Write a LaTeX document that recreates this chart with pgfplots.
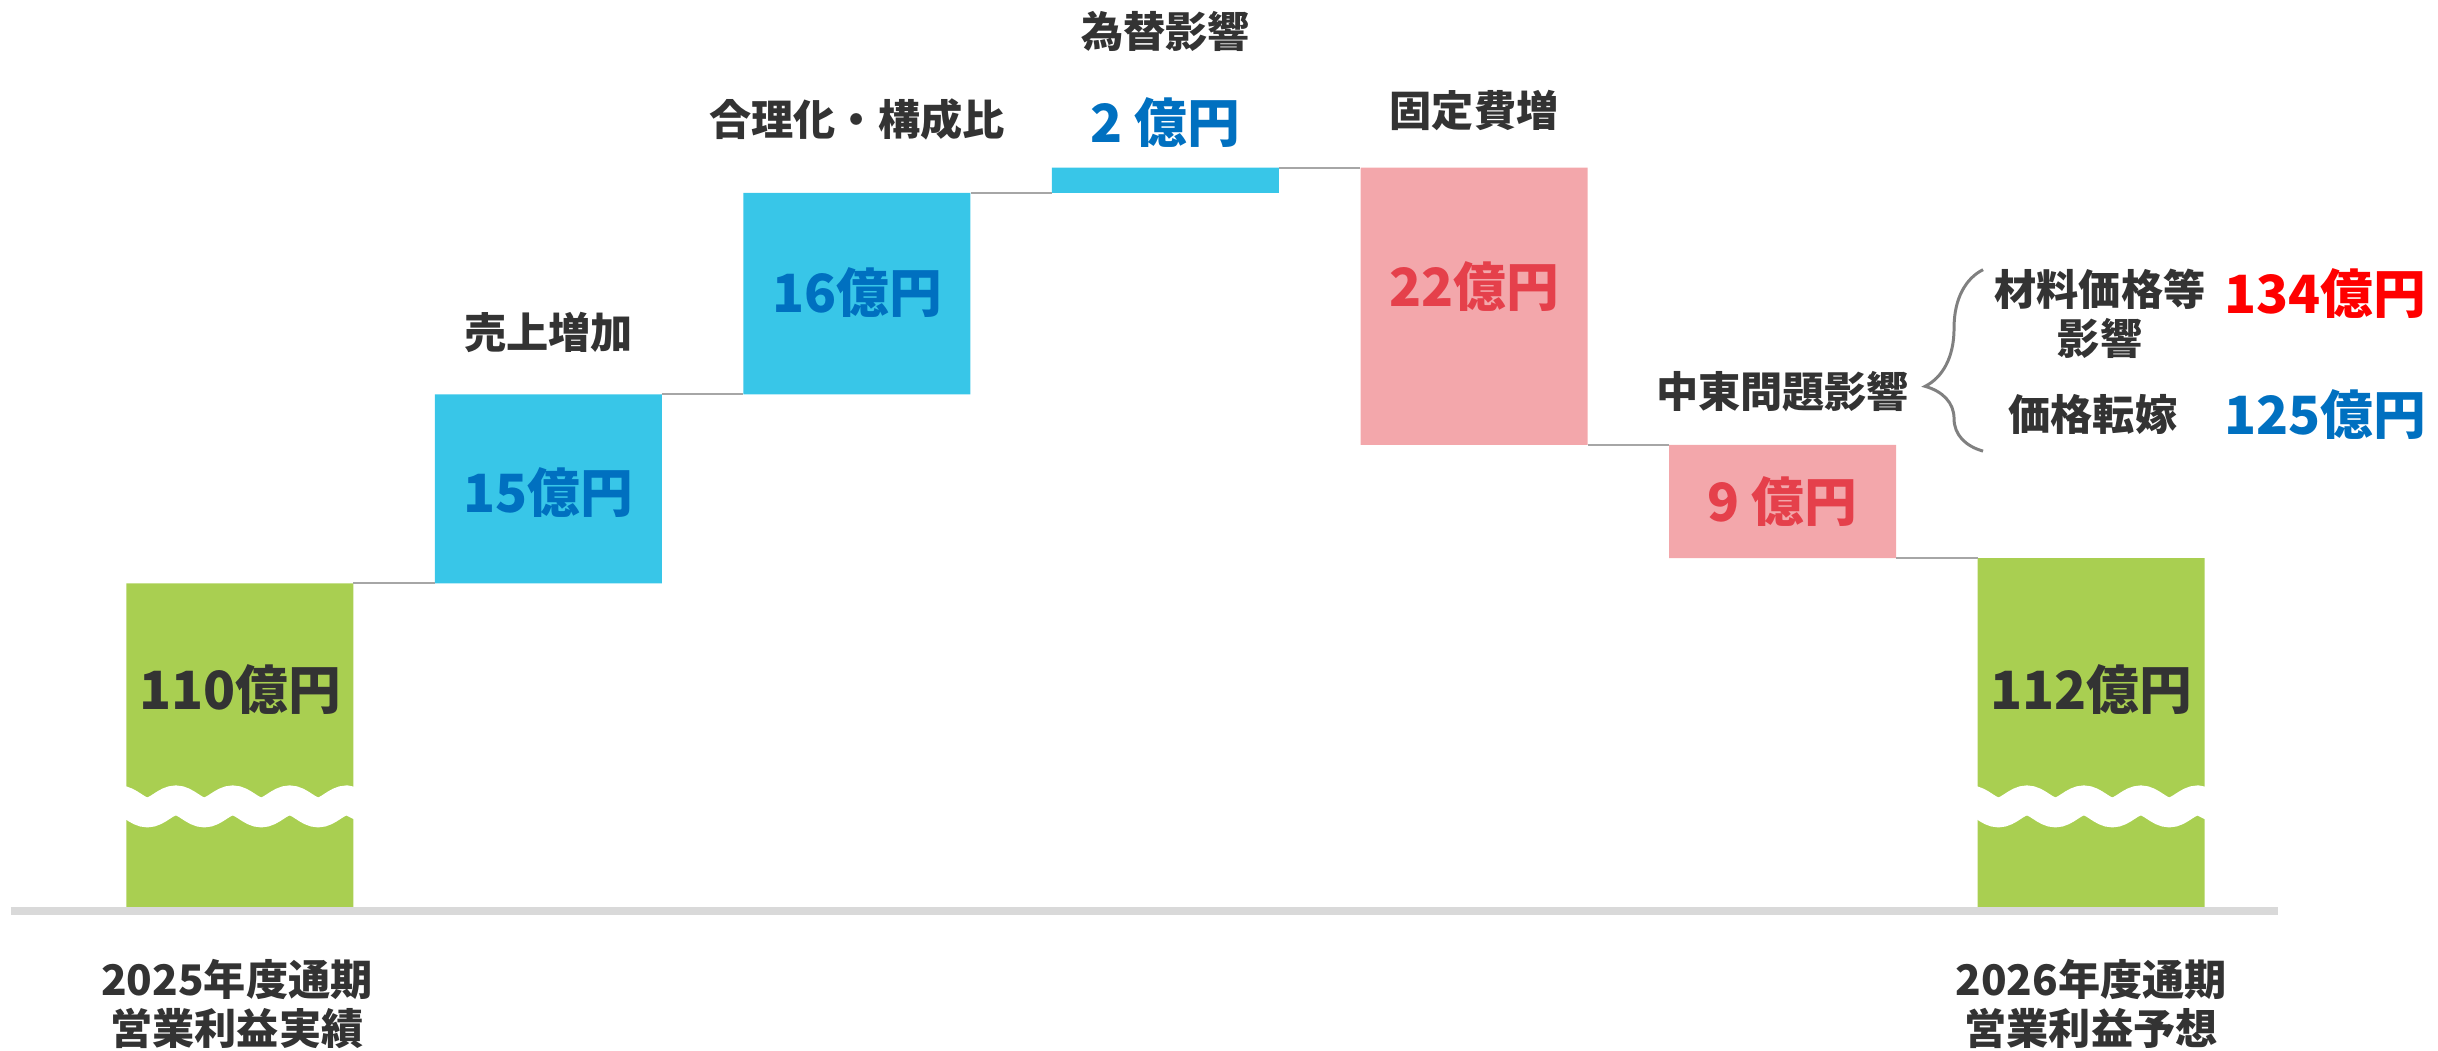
\documentclass[border=0pt]{standalone}
\usepackage{fontspec}
\setmainfont{Noto Sans CJK JP}
\usepackage{pgfplots}
\pgfplotsset{compat=1.18}
\usetikzlibrary{decorations.pathmorphing,decorations.pathreplacing}

\definecolor{barGreen}{HTML}{A9CF51}
\definecolor{barCyan}{HTML}{38C6E8}
\definecolor{barPink}{HTML}{F3A7AB}
\definecolor{txtDark}{HTML}{333333}
\definecolor{txtBlue}{HTML}{0070C0}
\definecolor{txtRed}{HTML}{E5404B}
\definecolor{txtBright}{HTML}{FF0000}
\definecolor{linkGray}{HTML}{A6A6A6}
\definecolor{baseGray}{HTML}{D9D9D9}
\definecolor{braceGray}{HTML}{808080}

% same frame for both axes
\pgfplotsset{
  frame/.style={
    at={(0.11cm,1.40cm)}, anchor=south west,
    scale only axis, width=22.67cm, height=9.072cm,
    xmin=-0.742, xmax=6.606, ymin=84, ymax=156,
    hide axis,
  },
}
\tikzset{
  lab/.style={font=\fontsize{12pt}{14pt}\selectfont\bfseries, text=txtDark, align=center},
  val/.style={font=\fontsize{15pt}{18pt}\selectfont\bfseries},
  wave/.style={white, line width=8.5pt, decorate, decoration={snake, amplitude=1.7pt, segment length=16.2pt}},
}

\begin{document}
\begin{tikzpicture}
% bars: invisible base + visible parts
\begin{axis}[frame, ybar stacked, bar width=2.27cm, clip mode=individual]
\addplot[draw=none, fill=none] coordinates {(0,0)(1,110)(2,125)(3,141)(4,121)(5,112)(6,0)};
\addplot[draw=none, fill=barGreen] coordinates {(0,110)(1,0)(2,0)(3,0)(4,0)(5,0)(6,112)};
\addplot[draw=none, fill=barCyan] coordinates {(0,0)(1,15)(2,16)(3,2)(4,0)(5,0)(6,0)};
\addplot[draw=none, fill=barPink] coordinates {(0,0)(1,0)(2,0)(3,0)(4,22)(5,9)(6,0)};
\end{axis}

% connectors, break marks and labels
\begin{axis}[frame, clip=false, unbounded coords=jump]
\addplot[linkGray, line width=0.6pt, no marks] coordinates {
(0.368,110)(0.632,110)(1,nan)
(1.368,125)(1.632,125)(2,nan)
(2.368,141)(2.632,141)(3,nan)
(3.368,143)(3.632,143)(4,nan)
(4.368,121)(4.632,121)(5,nan)
(5.368,112)(5.632,112)};

\draw[baseGray, line width=2pt] (axis cs:-0.742,84) -- (axis cs:6.606,84);

\draw[wave] (axis cs:-0.45,92.3) -- (axis cs:0.45,92.3);
\draw[wave] (axis cs:5.55,92.3) -- (axis cs:6.45,92.3);

\node[val, text=txtDark] at (axis cs:0,101.6) {110億円};
\node[val, text=txtBlue] at (axis cs:1,117.2) {15億円};
\node[val, text=txtBlue] at (axis cs:2,133.1) {16億円};
\node[val, text=txtBlue] at (axis cs:3,146.6) {2 億円};
\node[val, text=txtRed] at (axis cs:4,133.6) {22億円};
\node[val, text=txtRed] at (axis cs:5,116.5) {9 億円};
\node[val, text=txtDark] at (axis cs:6,101.6) {112億円};

\node[lab] at (axis cs:1,129.9) {売上増加};
\node[lab] at (axis cs:2,146.8) {合理化・構成比};
\node[lab] at (axis cs:3,153.8) {為替影響};
\node[lab] at (axis cs:4,147.5) {固定費増};
\node[lab] at (axis cs:5,125.2) {中東問題影響};

\node[lab] at (axis cs:-0.01,76.6) {2025年度通期\\営業利益実績};
\node[lab] at (axis cs:6,76.6) {2026年度通期\\営業利益予想};

\draw[braceGray, line width=0.85pt, decorate, decoration={brace, amplitude=16.5pt, aspect=0.357}]
  (axis cs:5.65,120.5) -- (axis cs:5.65,134.9);
\node[lab] at (axis cs:6.029,131.4) {材料価格等\\影響};
\node[lab] at (axis cs:6.006,123.4) {価格転嫁};
\node[val, text=txtBright] at (axis cs:6.76,133.0) {134億円};
\node[val, text=txtBlue] at (axis cs:6.76,123.4) {125億円};
\end{axis}
\pgfresetboundingbox
\path[use as bounding box] (0,0) rectangle (24.38cm,10.51cm);
\end{tikzpicture}
\end{document}
